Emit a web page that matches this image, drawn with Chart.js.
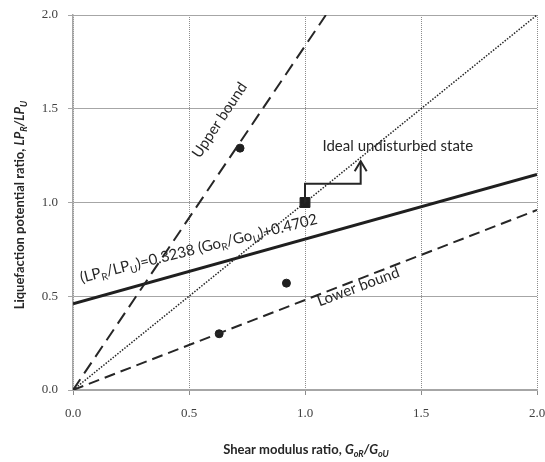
<!DOCTYPE html>
<html>
<head>
<meta charset="utf-8">
<script src="https://cdn.jsdelivr.net/npm/chart.js@4.4.1/dist/chart.umd.min.js"></script>
<style>
  html, body { margin: 0; padding: 0; background: #fff; }
  #wrap { width: 545px; height: 462px; }
</style>
</head>
<body>
<div id="wrap"><canvas id="chart"></canvas></div>
<script>
// axis ticks
const xTicks = [0, 0.5, 1.0, 1.5, 2.0];
const yTicks = [0, 0.5, 1.0, 1.5, 2.0];

// lines
const upperX = [0, 1.09];
const upperY = [0, 2.0];
const lowerX = [0, 2.0];
const lowerY = [0, 0.96];
const idealX = [0, 2.0];
const idealY = [0, 2.0];
const fitX = [0, 2.0];
const fitY = [0.46, 1.15];

// measured points
const obsX = [0.72, 0.92, 0.63];
const obsY = [1.29, 0.57, 0.30];
const refX = [1.0];
const refY = [1.0];

// bracket arrow to the ideal state
const arrowX = [1.0, 1.0, 1.24, 1.24];
const arrowY = [1.0, 1.1, 1.1, 1.22];

const pts = (xs, ys) => xs.map((x, i) => ({ x: x, y: ys[i] }));

const FONT = 'Lato, "Open Sans", sans-serif';

// draw a run of text pieces (with subscripts) centred on cx, cy
function drawRich(ctx, segs, cx, cy, angle, size, color) {
  const fontOf = s => (s.i ? 'italic ' : '') + (s.b ? 'bold ' : '') +
    (s.sub ? Math.round(size * 0.68) : size) + 'px ' + FONT;
  let total = 0;
  segs.forEach(s => { ctx.font = fontOf(s); s.w = ctx.measureText(s.t).width; total += s.w; });
  ctx.save();
  ctx.translate(cx, cy);
  ctx.rotate(angle * Math.PI / 180);
  ctx.fillStyle = color;
  ctx.textBaseline = 'middle';
  ctx.textAlign = 'left';
  let x = -total / 2;
  segs.forEach(s => {
    ctx.font = fontOf(s);
    ctx.fillText(s.t, x, s.sub ? size * 0.32 : 0);
    x += s.w;
  });
  ctx.restore();
}

const notes = [
  { segs: [{ t: 'Upper bound' }], x: 0.632, y: 1.44, angle: -56.5, size: 15 },
  { segs: [{ t: 'Ideal undisturbed state' }], x: 1.40, y: 1.30, angle: 0, size: 15 },
  { segs: [{ t: 'Lower bound' }], x: 1.23, y: 0.55, angle: -20.5, size: 15 },
  { segs: [{ t: '(LP' }, { t: 'R', sub: 1 }, { t: '/LP' }, { t: 'U', sub: 1 }, { t: ')=0.3238 (Go' },
           { t: 'R', sub: 1 }, { t: '/Go' }, { t: 'U', sub: 1 }, { t: ')+0.4702' }],
    x: 0.542, y: 0.755, angle: -14, size: 15 }
];

const annotate = {
  id: 'annotate',
  afterDatasetsDraw(chart) {
    const ctx = chart.ctx;
    const xs = chart.scales.x, ys = chart.scales.y;
    notes.forEach(n => drawRich(ctx, n.segs, xs.getPixelForValue(n.x), ys.getPixelForValue(n.y),
      n.angle, n.size, '#262626'));

    // open arrow head at the end of the bracket
    const meta = chart.getDatasetMeta(4);
    const tip = meta.data[meta.data.length - 1];
    ctx.save();
    ctx.strokeStyle = '#262626';
    ctx.lineWidth = 2;
    ctx.beginPath();
    ctx.moveTo(tip.x - 6, tip.y + 10);
    ctx.lineTo(tip.x, tip.y);
    ctx.lineTo(tip.x + 6, tip.y + 10);
    ctx.stroke();
    ctx.restore();

    // axis titles
    drawRich(ctx, [{ t: 'Shear modulus ratio, ', b: 1 }, { t: 'G', b: 1, i: 1 }, { t: 'oR', b: 1, i: 1, sub: 1 },
      { t: '/G', b: 1, i: 1 }, { t: 'oU', b: 1, i: 1, sub: 1 }], 306, 450, 0, 13, '#262626');
    drawRich(ctx, [{ t: 'Liquefaction potential ratio, ', b: 1 }, { t: 'LP', b: 1, i: 1 }, { t: 'R', b: 1, i: 1, sub: 1 },
      { t: '/LP', b: 1, i: 1 }, { t: 'U', b: 1, i: 1, sub: 1 }], 20, 205, -90, 13, '#262626');
  }
};

new Chart(document.getElementById('chart'), {
  type: 'scatter',
  data: {
    datasets: [
      { data: pts(upperX, upperY), showLine: true, borderColor: '#262626', borderWidth: 2,
        borderDash: [13, 7], pointRadius: 0 },
      { data: pts(lowerX, lowerY), showLine: true, borderColor: '#262626', borderWidth: 2,
        borderDash: [11, 6], pointRadius: 0 },
      { data: pts(idealX, idealY), showLine: true, borderColor: '#262626', borderWidth: 1.5,
        borderDash: [1.5, 1.5], pointRadius: 0 },
      { data: pts(fitX, fitY), showLine: true, borderColor: '#1f1f1f', borderWidth: 3, pointRadius: 0 },
      { data: pts(arrowX, arrowY), showLine: true, borderColor: '#262626', borderWidth: 2, pointRadius: 0 },
      { data: pts(obsX, obsY), backgroundColor: '#1f1f1f', borderColor: '#1f1f1f', pointRadius: 4 },
      { data: pts(refX, refY), pointStyle: 'rect', backgroundColor: '#1f1f1f', borderColor: '#1f1f1f',
        pointRadius: 7 }
    ]
  },
  options: {
    responsive: true,
    maintainAspectRatio: false,
    animation: false,
    layout: { padding: { top: 15, right: 8, left: 0, bottom: 0 } },
    plugins: { legend: { display: false }, tooltip: { enabled: false } },
    scales: {
      x: {
        min: 0, max: 2,
        afterBuildTicks: s => { s.ticks = xTicks.map(v => ({ value: v })); },
        afterFit: s => { s.height = 72; s.paddingLeft = 0; s.paddingRight = 0; },
        ticks: { callback: v => v.toFixed(1), padding: 11, color: '#404040',
          font: { family: '"Liberation Serif", serif', size: 13 } },
        grid: { color: '#8c8c8c', lineWidth: 1, tickLength: 5 },
        border: { color: '#a6a6a6', width: 1.5, dash: [1, 1] }
      },
      y: {
        min: 0, max: 2,
        afterBuildTicks: s => { s.ticks = yTicks.map(v => ({ value: v })); },
        afterFit: s => { s.width = 73; s.paddingTop = 0; s.paddingBottom = 0; },
        ticks: { callback: v => v.toFixed(1), padding: 10, color: '#404040',
          font: { family: '"Liberation Serif", serif', size: 13 } },
        grid: { color: '#a6a6a6', lineWidth: 1, tickLength: 5 },
        border: { color: '#a6a6a6', width: 1.5 }
      }
    }
  },
  plugins: [annotate]
});
</script>
</body>
</html>
